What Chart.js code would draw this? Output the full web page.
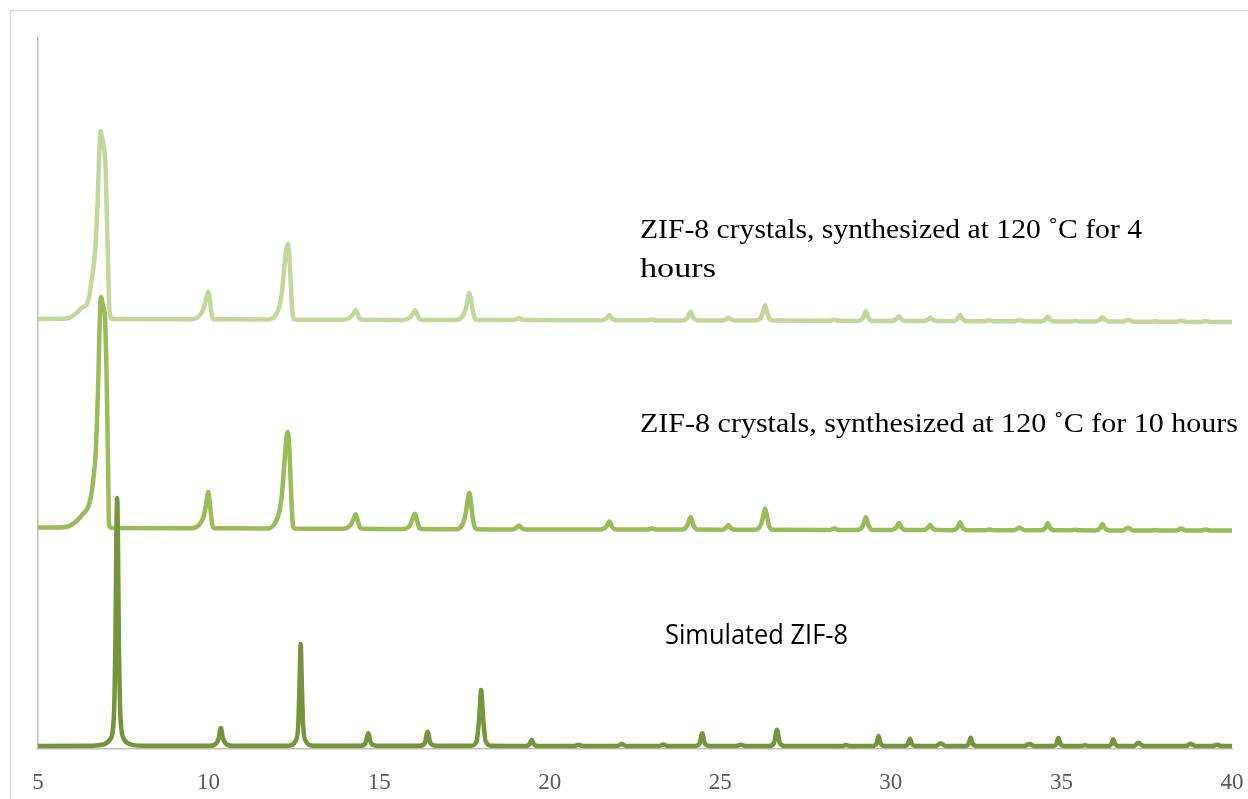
<!DOCTYPE html>
<html>
<head>
<meta charset="utf-8">
<script src="https://cdn.jsdelivr.net/npm/chart.js@4.4.1/dist/chart.umd.min.js"></script>
<style>
  html, body { margin: 0; padding: 0; background: #ffffff; }
  #wrap { width: 1248px; height: 799px; }
</style>
</head>
<body>
<div id="wrap"><canvas id="xrd" width="1248" height="799"></canvas></div>
<script>
// Powder XRD patterns of ZIF-8 (2θ in degrees, intensity in a.u., patterns stacked)
const xTickValues = [5, 10, 15, 20, 25, 30, 35, 40];

const seriesNames = [
  'Simulated ZIF-8',
  'ZIF-8 crystals, synthesized at 120 ˚C for 10 hours',
  'ZIF-8 crystals, synthesized at 120 ˚C for 4 hours'
];

// Simulated pattern
const simulatedPattern = [
  [5.00,3],[6.60,3.3],[6.95,5],[7.12,10],[7.22,30],[7.27,110],[7.30,220],[7.32,251],[7.34,220],[7.37,110],[7.42,30],[7.52,10],[7.69,5],[8.05,3.3],
  [10.05,3.2],[10.22,5.5],[10.30,11],[10.36,21],[10.42,11],[10.50,5.5],[10.67,3.2],
  [12.35,3.3],[12.55,8],[12.63,25],[12.67,70],[12.70,105],[12.73,70],[12.77,25],[12.85,8],[13.05,3.3],
  [14.45,3.2],[14.60,6],[14.68,16],[14.76,6],[14.92,3.2],
  [16.19,3.2],[16.34,6],[16.42,17.3],[16.50,6],[16.66,3.2],
  [17.70,3.3],[17.86,8],[17.93,30],[17.99,59],[18.05,30],[18.12,8],[18.30,3.3],
  [19.30,3.1],[19.41,5],[19.47,9],[19.53,5],[19.65,3.1],
  [20.72,3],[20.84,4.2],[20.96,3],
  [21.98,3],[22.11,5],[22.24,3],
  [23.20,3],[23.33,4.5],[23.46,3],
  [24.27,3.1],[24.40,6],[24.47,15.7],[24.54,6],[24.68,3.1],
  [25.47,3],[25.60,4.2],[25.73,3],
  [26.45,3.1],[26.58,6.5],[26.66,19.3],[26.74,6.5],[26.88,3.1],
  [28.56,3],[28.69,3.9],[28.82,3],
  [29.47,3],[29.58,5.5],[29.64,13],[29.70,5.5],[29.82,3],
  [30.40,3],[30.50,5],[30.56,10.3],[30.62,5],[30.74,3],
  [31.32,3],[31.46,5.7],[31.60,3],
  [32.18,3],[32.28,5.2],[32.34,11.3],[32.40,5.2],[32.52,3],
  [33.92,3],[34.06,5],[34.20,3],
  [34.75,3],[34.85,5],[34.91,11],[34.97,5],[35.09,3],
  [35.57,3],[35.69,3.7],[35.81,3],
  [36.37,3],[36.46,4.8],[36.52,9.7],[36.58,4.8],[36.69,3],
  [37.13,3],[37.26,6.3],[37.39,3],
  [38.65,3],[38.79,5.3],[38.93,3],
  [39.43,3],[39.56,4.3],[39.69,3],
  [40.00,3]
];

// Crystals synthesized for 10 hours
const tenHourPattern = [
  [5.00,221.5],[5.60,221.6],[5.88,222.5],[6.10,227],[6.33,235.5],[6.40,238],[6.47,242],[6.55,252],[6.62,269],[6.68,290],[6.72,319],[6.76,360],[6.79,402],[6.82,440],[6.84,452],[6.87,450],[6.90,444],[6.93,440],[6.96,434],[7.00,390],[7.03,336],[7.06,270],[7.08,226],[7.12,221.5],[7.16,221],
  [9.50,220.8],[9.72,224],[9.85,232],[9.93,245],[9.99,257],[10.04,245],[10.09,228],[10.14,221],[10.20,220.8],
  [11.75,220.6],[11.95,226],[12.08,238],[12.16,258],[12.22,285],[12.28,310],[12.32,317],[12.36,305],[12.41,265],[12.46,228],[12.52,220.5],
  [13.95,220.2],[14.15,223.5],[14.25,230],[14.31,234.7],[14.37,229],[14.43,222],[14.50,220.2],
  [15.70,220],[15.90,223.5],[15.99,231],[16.05,235.3],[16.11,229],[16.17,221.5],[16.25,220],
  [17.25,219.8],[17.45,225],[17.55,238],[17.60,250],[17.64,256.3],[17.68,250],[17.74,232],[17.80,222],[17.88,219.8],
  [18.90,219.6],[19.03,221.5],[19.10,223.6],[19.17,221.2],[19.28,219.6],
  [21.50,219.5],[21.66,222.5],[21.75,227.5],[21.83,222],[21.95,219.5],
  [22.85,219.5],[22.99,220.5],[23.15,219.4],
  [23.88,219.4],[24.03,223.5],[24.13,232],[24.21,224],[24.33,219.4],
  [25.05,219.3],[25.17,221.3],[25.24,224],[25.31,221],[25.42,219.3],
  [26.02,219.2],[26.20,225],[26.27,235],[26.31,240.5],[26.36,234],[26.43,223],[26.55,219.2],
  [28.20,219],[28.34,220.5],[28.48,219],
  [29.02,219],[29.18,223],[29.27,232],[29.34,224],[29.47,219],
  [30.02,219],[30.16,221.5],[30.24,226],[30.31,221.5],[30.44,218.9],
  [30.95,218.9],[31.08,221],[31.15,224.2],[31.22,221],[31.35,218.9],
  [31.80,218.8],[31.95,221.5],[32.03,226.8],[32.10,221.5],[32.24,218.8],
  [32.77,218.8],[32.89,219.5],[33.01,218.8],
  [33.62,218.8],[33.77,221.5],[33.92,218.8],
  [34.40,218.7],[34.53,221],[34.60,225.8],[34.67,221],[34.80,218.7],
  [35.28,218.7],[35.40,219.2],[35.52,218.7],
  [36.00,218.6],[36.13,220.8],[36.20,225],[36.27,220.8],[36.40,218.6],
  [36.80,218.6],[36.95,221.3],[37.10,218.6],
  [37.62,218.6],[37.75,219],[37.88,218.6],
  [38.37,218.5],[38.51,220.5],[38.65,218.5],
  [39.10,218.5],[39.23,219.5],[39.36,218.5],
  [40.00,218.4]
];

// Crystals synthesized for 4 hours
const fourHourPattern = [
  [5.00,430],[5.60,430.2],[5.88,430.8],[6.10,435],[6.27,440.7],[6.35,442.5],[6.42,444],[6.50,452],[6.55,464],[6.62,480],[6.67,496],[6.72,525],[6.75,549],[6.79,590],[6.82,612],[6.84,617.7],[6.88,611],[6.93,603],[6.98,582],[7.03,520],[7.08,449],[7.13,432],[7.18,430],
  [9.50,429.8],[9.72,433],[9.85,440],[9.93,450],[9.99,457],[10.04,449],[10.09,435],[10.14,430],[10.20,429.8],
  [11.75,429.6],[11.95,433],[12.08,443],[12.16,460],[12.22,482],[12.28,500],[12.32,505],[12.36,496],[12.41,465],[12.46,436],[12.52,429.5],
  [13.95,429.2],[14.15,431.5],[14.25,435.5],[14.31,438.9],[14.37,435],[14.43,430.5],[14.50,429.2],
  [15.70,429.1],[15.90,431.5],[15.99,435.5],[16.05,438.8],[16.11,435],[16.17,430.3],[16.25,429.1],
  [17.25,429],[17.45,433],[17.55,442],[17.60,451],[17.64,456.3],[17.68,451],[17.74,440],[17.80,431],[17.88,429],
  [18.90,428.9],[19.03,429.8],[19.10,431],[19.17,429.6],[19.28,428.9],
  [21.50,428.7],[21.66,430.5],[21.75,434],[21.83,430.2],[21.95,428.7],
  [22.85,428.7],[22.99,429.5],[23.15,428.6],
  [23.88,428.6],[24.03,431],[24.13,437.3],[24.21,431.5],[24.33,428.6],
  [25.05,428.5],[25.17,429.8],[25.24,431.5],[25.31,429.7],[25.42,428.5],
  [26.02,428.4],[26.20,432],[26.27,439],[26.31,443.8],[26.36,438.5],[26.43,431],[26.55,428.4],
  [28.20,428.2],[28.34,429.3],[28.48,428.2],
  [29.02,428.1],[29.18,431],[29.27,437.9],[29.34,431.5],[29.47,428.1],
  [30.02,428],[30.16,429.8],[30.24,432.7],[30.31,429.8],[30.44,428],
  [30.95,427.9],[31.08,429.4],[31.15,431.6],[31.22,429.3],[31.35,427.9],
  [31.80,427.8],[31.95,430],[32.03,434.1],[32.10,430],[32.24,427.8],
  [32.77,427.8],[32.89,428.8],[33.01,427.7],
  [33.62,427.7],[33.77,429],[33.92,427.7],
  [34.40,427.6],[34.53,429.4],[34.60,432.6],[34.67,429.3],[34.80,427.6],
  [35.28,427.5],[35.40,428.2],[35.52,427.5],
  [36.00,427.5],[36.13,429.2],[36.20,431.8],[36.27,429.2],[36.40,427.4],
  [36.80,427.4],[36.95,429.1],[37.10,427.3],
  [37.62,427.3],[37.75,427.8],[37.88,427.2],
  [38.37,427.2],[38.51,428.6],[38.65,427.1],
  [39.10,427.1],[39.23,428.1],[39.36,427],
  [40.00,427]
];

const toPoints = arr => arr.map(p => ({ x: p[0], y: p[1] }));

// Frame around the whole figure
const framePlugin = {
  id: 'figureFrame',
  beforeDraw(chart) {
    const ctx = chart.ctx;
    ctx.save();
    ctx.fillStyle = '#ffffff';
    ctx.fillRect(0, 0, chart.width, chart.height);
    ctx.strokeStyle = '#d9d9d9';
    ctx.lineWidth = 1.5;
    ctx.strokeRect(10.5, 10.5, chart.width + 20, chart.height + 20);
    ctx.restore();
  }
};

// Text labels placed beside each pattern
const labelItems = [
  { lines: ['ZIF-8 crystals, synthesized at 120 ˚C for 4', 'hours'], x: 640, y: 238, lineGap: 39, widths: [502, 76], font: '28px "Liberation Serif", "Times New Roman", serif' },
  { lines: ['ZIF-8 crystals, synthesized at 120 ˚C for 10 hours'], x: 640, y: 432, lineGap: 0, widths: [598], font: '28px "Liberation Serif", "Times New Roman", serif' },
  { lines: ['Simulated ZIF-8'], x: 665, y: 644, lineGap: 0, widths: [183], font: '27px "Open Sans", "Noto Sans", sans-serif' }
];

const labelPlugin = {
  id: 'patternLabels',
  afterDatasetsDraw(chart) {
    const ctx = chart.ctx;
    ctx.save();
    ctx.fillStyle = '#000000';
    ctx.textBaseline = 'alphabetic';
    ctx.textAlign = 'left';
    labelItems.forEach(item => {
      ctx.font = item.font;
      item.lines.forEach((txt, i) => {
        const w = ctx.measureText(txt).width;
        const sx = item.widths[i] / w;
        ctx.save();
        ctx.translate(item.x, item.y + i * item.lineGap);
        ctx.scale(sx, 1);
        ctx.fillText(txt, 0, 0);
        ctx.restore();
      });
    });
    ctx.restore();
  }
};

new Chart(document.getElementById('xrd'), {
  type: 'line',
  data: {
    datasets: [
      { label: seriesNames[0], data: toPoints(simulatedPattern), borderColor: '#77933c', order: 0 },
      { label: seriesNames[1], data: toPoints(tenHourPattern), borderColor: '#9bbb59', order: 1 },
      { label: seriesNames[2], data: toPoints(fourHourPattern), borderColor: '#c3d69b', order: 2 }
    ]
  },
  options: {
    responsive: false,
    animation: false,
    devicePixelRatio: 1,
    parsing: false,
    layout: { padding: { left: 0, top: 38, right: 16, bottom: 0 } },
    elements: {
      point: { radius: 0, hoverRadius: 0 },
      line: { borderWidth: 4.5, cubicInterpolationMode: 'monotone', borderJoinStyle: 'round', borderCapStyle: 'round', fill: false }
    },
    plugins: {
      legend: { display: false },
      tooltip: { enabled: false },
      title: { display: false }
    },
    scales: {
      x: {
        type: 'linear',
        min: 5,
        max: 40,
        afterBuildTicks(scale) { scale.ticks = xTickValues.map(v => ({ value: v })); },
        afterFit(scale) {
          scale.height = 50;
          scale.paddingLeft = 0;
          scale.paddingRight = 0;
        },
        grid: { display: false, drawTicks: false },
        border: { display: true, color: '#bfbfbf', width: 1.5 },
        ticks: {
          padding: 20,
          color: '#595959',
          font: { family: '"Liberation Serif", "Times New Roman", serif', size: 23 },
          maxRotation: 0,
          autoSkip: false
        }
      },
      y: {
        type: 'linear',
        min: 0,
        max: 711,
        afterFit(scale) {
          scale.width = 38;
          scale.paddingTop = 0;
          scale.paddingBottom = 0;
        },
        grid: { display: false, drawTicks: false },
        border: { display: true, color: '#bfbfbf', width: 1.5 },
        ticks: { display: false }
      }
    }
  },
  plugins: [framePlugin, labelPlugin]
});
</script>
</body>
</html>
